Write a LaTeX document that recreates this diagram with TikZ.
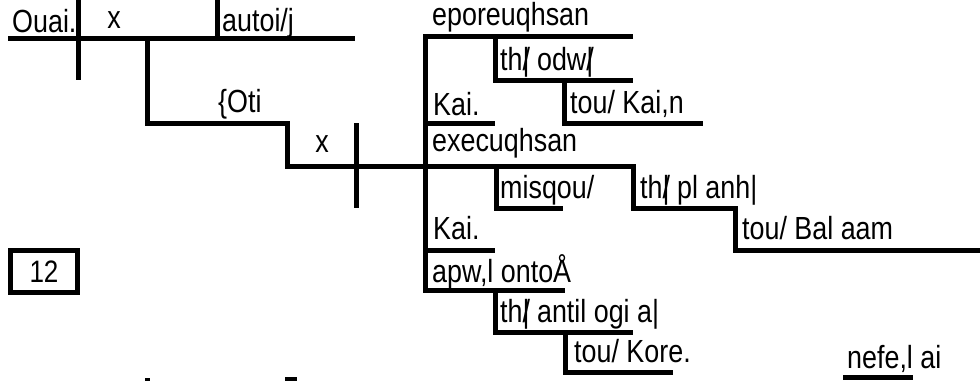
\documentclass[tikz,border=0pt]{standalone}
\usepackage{fontspec}
\setmainfont{Liberation Sans}[FakeStretch=0.84]
\newcommand{\ovl}[2]{\rlap{#1}#2}
\begin{document}
\begin{tikzpicture}[x=1pt,y=-1pt,
  rule/.style={line width=5pt,line cap=butt,line join=miter},
  word/.style={anchor=base west,inner sep=0pt,font=\fontsize{32}{38}\selectfont},
  cword/.style={anchor=base,inner sep=0pt,font=\fontsize{32}{38}\selectfont}]
\useasboundingbox (0,0) rectangle (980,381);
% lines
\draw[rule] (8,38) -- (355,38);
\draw[rule] (78,0) -- (78,80);
\draw[rule] (217,0) -- (217,38);
\draw[rule] (147,38) -- (147,123) -- (287,123) -- (287,166) -- (633,166) -- (633,208) -- (735,208) -- (735,250) -- (980,250);
\draw[rule] (356,123) -- (356,208);
\draw[rule] (633,36) -- (425,36) -- (425,290) -- (565,290);
\draw[rule] (425,123) -- (495,123);
\draw[rule] (425,250) -- (495,250);
\draw[rule] (495,36) -- (495,80) -- (633,80);
\draw[rule] (564,80) -- (564,123) -- (703,123);
\draw[rule] (496,166) -- (496,208) -- (563,208);
\draw[rule] (495,290) -- (495,332) -- (633,332);
\draw[rule] (565,332) -- (565,372) -- (673,372);
\draw[rule] (843,377) -- (913,377);
\fill (145,378) rectangle (150,381);
\fill (285,377) rectangle (297,381);
% words
\node[word] (ouai) at (12,32) {Ouai.};
\node[cword] (x1) at (114,28) {x};
\node[word] (autois) at (222,31) {autoi/j};
\node[word] (oti) at (218,112) {\{Oti};
\node[cword] (x2) at (322,152) {x};
\node[word] (eporeu) at (432,25) {eporeuqhsan};
\node[word] (odw) at (500,70) {th\ovl{/}{|} odw\ovl{/}{|}};
\node[word] (kai1) at (433,115) {Kai.};
\node[word] (kain) at (570,113) {tou/ Kai,n};
\node[word] (execu) at (432,151) {execuqhsan};
\node[word] (misqou) at (500,198) {misqou/};
\node[word] (planh) at (640,198) {th\ovl{/}{|} pl anh|};
\node[word] (kai2) at (433,239) {Kai.};
\node[word] (balaam) at (742,239) {tou/ Bal aam};
\node[word] (apwl) at (432,282) {apw,l ontoÅ};
\node[word] (antil) at (500,322) {th\ovl{/}{|} antil ogi a|};
\node[word] (kore) at (574,362) {tou/ Kore.};
\node[word] (nefel) at (847,368) {nefe,l ai};
\node[draw,rule,minimum width=67pt,minimum height=42pt,inner sep=0pt,font=\fontsize{31}{36}\selectfont] (num) at (44,271.5) {12};
\end{tikzpicture}
\end{document}
